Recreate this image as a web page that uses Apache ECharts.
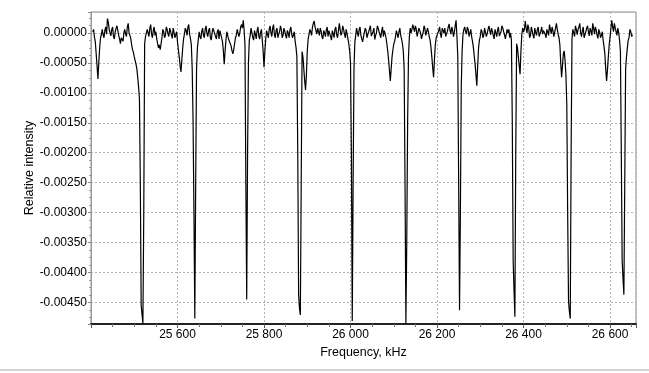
<!DOCTYPE html>
<html><head><meta charset="utf-8">
<script src="https://cdn.jsdelivr.net/npm/echarts@6/dist/echarts.min.js"></script>
<style>html,body{margin:0;padding:0;background:#fff}#c{width:649px;height:373px}</style>
</head><body><div id="c"></div>
<script>
// Sampling grid of the spectrum (kHz): main samples every 4 kHz, extra samples 2 kHz after each
const freqStartKHz = 25404;
const freqStepKHz = 4;
const midOffsetKHz = 2;
// Relative intensity at the main samples, in units of 1e-5
const intensityE5 = [
  2, -7, -35, -77, -25, -3, -3, 4, -2, 18,
  0, 6, -6, 2, 12, -4, -18, -10, 0, -2,
  10, 0, -9, -28, -40, -52, -74, -110, -454, -485,
  -18, -4, 0, 8, -2, 4, -4, -10, -25, -28,
  -8, 2, -4, 6, -6, 3, -9, 1, -5, -15,
  -40, -65, -25, -2, 4, 10, -2, -20, -150, -477,
  -60, -12, -6, 2, -4, 6, -1, 4, -8, 0,
  5, -6, 2, -10, -2, -15, -52, -12, -4, -8,
  -22, -35, -18, -4, 3, 0, 14, 21, -20, -445,
  -50, -4, 0, -12, -2, 4, -6, 1, -12, -57,
  -10, -2, 6, 0, 8, -3, 4, -8, 2, 6,
  -4, 3, -9, 0, 5, -2, -6, -14, -40, -437,
  -471, -31, -60, -95, -30, -3, 2, 10, 20, 4,
  8, -4, 3, -10, 0, 5, -6, 2, -12, -1,
  6, -3, 3, 14, 0, 6, -8, -2, -18, -50,
  -481, -60, -4, 0, 6, -4, -15, -3, 4, -2,
  7, -5, 2, -11, 0, 8, -3, 3, -6, -1,
  -18, -45, -80, -40, -18, -6, -2, 2, -4, -18,
  -60, -485, -150, -7, 0, 14, 2, 6, -4, 4,
  -10, 1, 7, -5, 2, -12, -40, -74, -20, -4,
  4, -2, 8, 0, -6, 3, 15, -2, 5, 1,
  21, -40, -463, -90, -2, 10, -2, 6, -4, -6,
  -24, -52, -88, -25, -6, 2, -4, 6, -1, 12,
  -3, 3, -10, 0, 5, -5, 2, 8, -3, -8,
  0, -8, -12, -380, -474, -18, -40, -69, -3, 2,
  20, 0, 8, -4, 4, -9, 1, 6, -6, 3,
  -2, 7, -8, 2, 14, -1, 4, -5, 16, -2,
  -20, -74, -35, -46, -120, -448, -477, -10, 0, 12,
  -3, 10, 0, 4, -8, 2, 12, -5, 3, 16,
  -2, 5, -9, 1, -4, -12, -35, -80, -40, -7,
  21, 2, 8, -4, 0, -30, -380, -437, -60, -25,
  -8, 2, -3
];
// Relative intensity read at the in-between samples (2 kHz after each main sample), units of 1e-5
const intensityMidE5 = [
  6, -15, -55, -50, -8, 6, -8, 10, 24, 6,
  -5, 10, -10, 8, 4, -10, -8, -14, 6, -6,
  16, -4, -20, -32, -46, -60, -90, -250, -470, -300,
  -6, 6, -6, 14, -8, 10, 2, -18, -20, -18,
  6, -8, 10, -2, 8, -4, 8, -8, 2, -28,
  -55, -45, -10, 8, -4, 14, -10, -60, -300, -250,
  -25, 2, -10, 8, -8, 12, -6, 8, -12, 8,
  10, -10, 6, 4, -8, -30, -30, 2, -10, -12,
  -30, -28, -8, 6, -6, 10, 8, 5, -250, -200,
  -12, 8, -8, 4, -10, 10, -10, 6, -30, -30,
  4, -8, 12, -6, 14, -8, 8, -2, 12, -8,
  8, -4, 4, -8, 10, -8, 2, -24, -200, -460,
  -250, -40, -80, -70, -10, 6, -4, 16, 10, -2,
  2, 8, -6, 4, -6, 10, 4, -6, 4, -8,
  10, -8, 16, -4, 12, -2, 6, -10, -30, -200,
  -250, -15, 8, -6, 10, -10, -6, 8, -8, 2,
  12, -6, 8, -4, 12, 2, -8, 10, 4, -8,
  -30, -62, -60, -28, -14, 4, -8, 8, -10, -30,
  -250, -350, -40, 8, 6, 8, 12, -6, 8, 0,
  -4, 12, -4, 8, -6, -24, -58, -45, -8, -6,
  10, -8, 4, 8, -8, 10, 4, 10, -6, 12,
  -5, -250, -300, -30, 6, 2, 10, -6, 6, -14,
  -38, -70, -55, -12, 6, -8, 8, -6, 6, 4,
  8, -4, 6, -6, 10, -8, 12, 2, -10, 6,
  6, 0, -150, -430, -200, -25, -55, -30, 8, 6,
  8, 14, -8, 10, -4, 8, -4, 10, -8, 10,
  4, -2, 6, -4, 6, 10, -6, 8, 6, -8,
  -50, -55, -30, -70, -300, -465, -200, 6, -6, 6,
  6, 16, -6, 10, -6, 8, 2, 8, -4, 8,
  10, -4, 6, -8, 2, -22, -60, -62, -20, 8,
  10, 16, 2, 8, -12, -200, -410, -250, -40, -12,
  6, -6
];
const xAxisRange = [25400, 26660];
const yAxisRange = [-0.00486, 0.00035];
const xTitle = 'Frequency, kHz';
const yTitle = 'Relative intensity';

const seriesData = [];
intensityE5.forEach((v, i) => {
  const f = freqStartKHz + i * freqStepKHz;
  seriesData.push([f, v / 1e5]);
  if (i < intensityMidE5.length) seriesData.push([f + midOffsetKHz, intensityMidE5[i] / 1e5]);
});
const font = 'Liberation Sans, Arial, sans-serif';

const chart = echarts.init(document.getElementById('c'), null, {renderer: 'canvas'});
chart.setOption({
  animation: false,
  backgroundColor: '#fff',
  grid: {left: 91, right: 13, top: 12, bottom: 49, show: true, borderColor: '#8a8a8a', borderWidth: 1, backgroundColor: '#fff'},
  xAxis: {
    type: 'value', min: xAxisRange[0], max: xAxisRange[1], interval: 200,
    name: xTitle, nameLocation: 'middle', nameGap: 18,
    nameTextStyle: {fontFamily: font, fontSize: 12.5, color: '#000'},
    axisLine: {show: true, onZero: false, lineStyle: {color: '#222', width: 2}},
    axisTick: {show: true, length: 4, lineStyle: {color: '#555'}},
    minorTick: {show: true, splitNumber: 4, length: 3, lineStyle: {color: '#777'}},
    axisLabel: {fontFamily: font, fontSize: 12, color: '#000', margin: 5, showMinLabel: false, showMaxLabel: false,
      formatter: v => String(v).replace(/\B(?=(\d{3})+(?!\d))/g, ' ')},
    splitLine: {show: true, lineStyle: {color: '#b4b4b4', type: [2, 2], width: 1}}
  },
  yAxis: {
    type: 'value', min: yAxisRange[0], max: yAxisRange[1], splitNumber: 10,
    name: yTitle, nameLocation: 'middle', nameGap: 55, nameMoveOverlap: false,
    nameTextStyle: {fontFamily: font, fontSize: 12.5, color: '#000'},
    axisLine: {show: true, onZero: false, lineStyle: {color: '#9a9a9a', width: 1}},
    axisTick: {show: true, length: 3, lineStyle: {color: '#888'}},
    minorTick: {show: true, splitNumber: 4, length: 2, lineStyle: {color: '#999'}},
    axisLabel: {fontFamily: font, fontSize: 12, color: '#000', margin: 4, showMinLabel: false, showMaxLabel: false,
      formatter: v => v.toFixed(5)},
    splitLine: {show: true, lineStyle: {color: '#b4b4b4', type: [2, 2], width: 1}}
  },
  graphic: [{type: 'rect', left: 0, top: 369, shape: {width: 649, height: 2}, style: {fill: '#d4d4d4'}, silent: true}],
  series: [{
    type: 'line', data: seriesData, showSymbol: false, symbol: 'none', sampling: null,
    lineStyle: {color: '#000', width: 1.2}, clip: true
  }]
});
</script></body></html>
